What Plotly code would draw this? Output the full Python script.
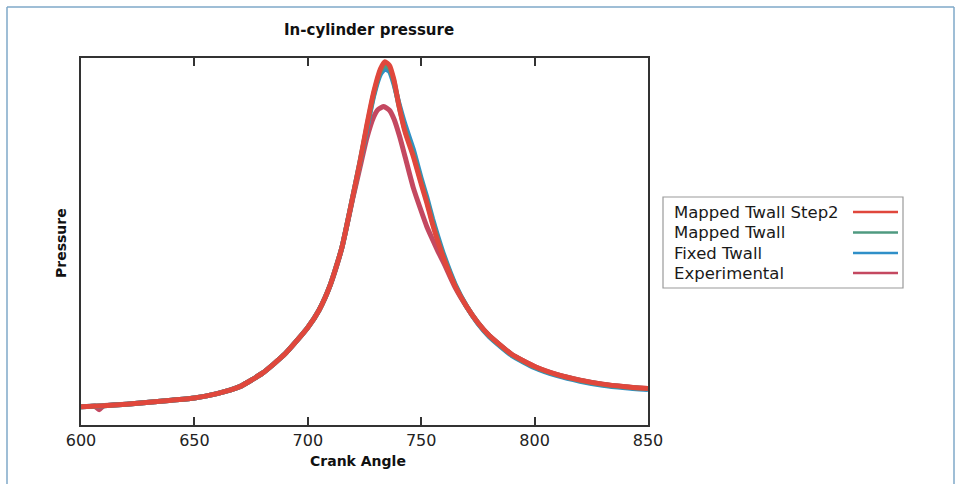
import plotly.graph_objects as go

# ---- data (arbitrary pressure units) ----
crank_sim = [600, 610, 620, 630, 640, 650, 660, 670, 680, 690, 700, 705, 710, 715, 720,
             723, 726, 729, 732, 734, 736, 738, 740, 743, 746.5, 750, 752.5, 755, 757.5,
             760, 765, 770, 775, 780, 790, 800, 810, 820, 830, 840, 850]

step2 = [5.0, 5.3, 5.7, 6.2, 6.8, 7.4, 8.6, 10.5, 14.2, 19.5, 26.7, 31.5, 38.5, 48.5, 63,
         72, 82, 91, 97.5, 99.5, 98.5, 94.5, 88, 80, 73.6, 66, 60.8, 55, 50,
         45.5, 38, 32.5, 28, 24.5, 19.3, 16, 13.8, 12.3, 11.2, 10.5, 10.0]

mapped = [5.0, 5.3, 5.7, 6.2, 6.8, 7.4, 8.6, 10.5, 14.2, 19.5, 26.7, 31.5, 38.5, 48.5, 63,
          72, 81.5, 90.5, 96.8, 98.6, 97.7, 94.0, 88, 80.5, 74.2, 66.6, 61.4, 55.6, 50.5,
          45.9, 38.2, 32.5, 28, 24.4, 19.2, 15.9, 13.7, 12.2, 11.1, 10.4, 9.9]

fixed = [5.0, 5.3, 5.7, 6.2, 6.8, 7.4, 8.6, 10.5, 14.2, 19.5, 26.7, 31.5, 38.5, 48.5, 63,
         71.8, 81, 90, 96, 97.5, 96.8, 93.3, 88.5, 82, 75.5, 67.5, 62.3, 56.5, 51.3,
         46.5, 38.5, 32.5, 27.8, 24.2, 19.0, 15.7, 13.5, 12.0, 10.9, 10.2, 9.7]

crank_exp = [600, 604, 606, 608, 610, 620, 630, 640, 650, 660, 670, 680, 690, 700, 705, 710,
             715, 720, 723, 726, 729, 731, 733.5, 736, 738, 740.5, 743, 746.5, 750, 752.5,
             755, 757.5, 760, 765, 770, 775, 780, 790, 800, 810, 820, 830, 840, 850]

experimental = [5.0, 5.1, 5.2, 4.2, 5.3, 5.7, 6.2, 6.8, 7.4, 8.6, 10.5, 14.2, 19.5, 26.7, 31.5,
                38.5, 48.5, 62.5, 70.5, 78.5, 84.3, 86.4, 87.2, 86.2, 83.8, 79.0, 73.2, 65.0,
                58.6, 54.3, 50.8, 47.4, 44.3, 37.6, 32.4, 28, 24.5, 19.3, 16, 13.8, 12.3,
                11.2, 10.5, 10.0]

names = ["Mapped Twall Step2", "Mapped Twall", "Fixed Twall", "Experimental"]
colors = ["#e0473c", "#4f9a80", "#2f8fc8", "#c44860"]
x_ticks = [600, 650, 700, 750, 800, 850]

FONT = "DejaVu Sans"

fig = go.Figure()
series = [(crank_exp, experimental, 3), (crank_sim, fixed, 2), (crank_sim, mapped, 1), (crank_sim, step2, 0)]
for xs, ys, i in series:
    fig.add_trace(go.Scatter(x=xs, y=ys, mode="lines", name=names[i],
                             line=dict(color=colors[i], width=5, shape="spline", smoothing=0.5),
                             showlegend=False))

FW, FH = 962, 484
L, R, T, B = 81, 648, 58, 425
W, H = R - L, B - T

def px(xp):
    return (xp - L) / W

def py(yp):
    return (B - yp) / H

shapes = []
fc = "#7fa8c9"
shapes.append(dict(type="line", xref="paper", yref="paper", x0=px(7), x1=px(7), y0=py(7), y1=py(500), line=dict(color=fc, width=1.5)))
shapes.append(dict(type="line", xref="paper", yref="paper", x0=px(7), x1=px(954), y0=py(7), y1=py(7), line=dict(color=fc, width=1.5)))
shapes.append(dict(type="line", xref="paper", yref="paper", x0=px(954), x1=px(954), y0=py(7), y1=py(500), line=dict(color=fc, width=1.5)))

shapes.append(dict(type="rect", xref="paper", yref="paper", x0=px(663), x1=px(903), y0=py(197), y1=py(288),
                   line=dict(color="#9a9a9a", width=1.2), fillcolor="white"))
annotations = []
row_y = [212, 232.5, 253, 273]
for i, nm in enumerate(names):
    annotations.append(dict(xref="paper", yref="paper", x=px(672), y=py(row_y[i]), text=nm,
                            showarrow=False, xanchor="left", yanchor="middle",
                            font=dict(family=FONT, size=16.5, color="#1a1a1a")))
    shapes.append(dict(type="line", xref="paper", yref="paper", x0=px(853), x1=px(898),
                       y0=py(row_y[i]), y1=py(row_y[i]), line=dict(color=colors[i], width=2.5)))

annotations.append(dict(xref="paper", yref="paper", x=px(369), y=py(30), text="<b>In-cylinder pressure</b>",
                        showarrow=False, xanchor="center", yanchor="middle",
                        font=dict(family=FONT, size=15, color="#111")))
annotations.append(dict(xref="paper", yref="paper", x=px(358), y=py(461), text="<b>Crank Angle</b>",
                        showarrow=False, xanchor="center", yanchor="middle",
                        font=dict(family=FONT, size=14, color="#111")))
annotations.append(dict(xref="paper", yref="paper", x=px(61), y=py(243), text="<b>Pressure</b>",
                        showarrow=False, xanchor="center", yanchor="middle", textangle=-90,
                        font=dict(family=FONT, size=14, color="#111")))

fig.update_layout(
    width=FW, height=FH,
    margin=dict(l=L, r=FW - R, t=T, b=FH - B),
    paper_bgcolor="white", plot_bgcolor="white",
    showlegend=False,
    shapes=shapes, annotations=annotations,
    xaxis=dict(range=[600, 850], tickvals=x_ticks, ticktext=[str(v) for v in x_ticks],
               ticks="inside", ticklen=8, tickwidth=1.5, tickcolor="#333",
               showline=True, linecolor="#333", linewidth=1.5, mirror="ticks",
               showgrid=False, zeroline=False,
               tickfont=dict(family=FONT, size=16, color="#222")),
    yaxis=dict(range=[0, 100.5], showticklabels=False, ticks="",
               showline=True, linecolor="#333", linewidth=1.5, mirror=True,
               showgrid=False, zeroline=False),
)

fig.write_html("out.html", config={"displayModeBar": False},
               post_script="document.body.style.margin='0';document.body.style.overflow='hidden';")
